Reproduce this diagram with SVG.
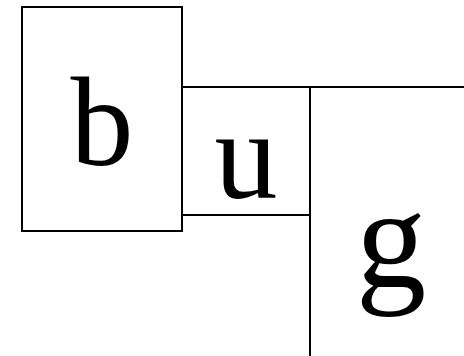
<svg xmlns="http://www.w3.org/2000/svg" width="464" height="356" viewBox="0 0 464 356">
<style>
.box{fill:#fff;stroke:#000;stroke-width:2}
.lbl{fill:#000;text-anchor:middle;font-family:"Liberation Serif",serif}
</style>
<rect width="464" height="356" fill="#fff"/>
<g id="node-b">
<rect class="box" x="22" y="7" width="160" height="224"/>
<text class="lbl" x="102" y="165" font-size="126">b</text>
</g>
<g id="node-u">
<rect class="box" x="182" y="87" width="128" height="128"/>
<text class="lbl" x="246" y="198" font-size="126">u</text>
</g>
<g id="node-g">
<rect class="box" x="310" y="87" width="170" height="290"/>
<text class="lbl" x="391" y="287" font-size="141">g</text>
</g>
<g id="connectors"/>
</svg>
